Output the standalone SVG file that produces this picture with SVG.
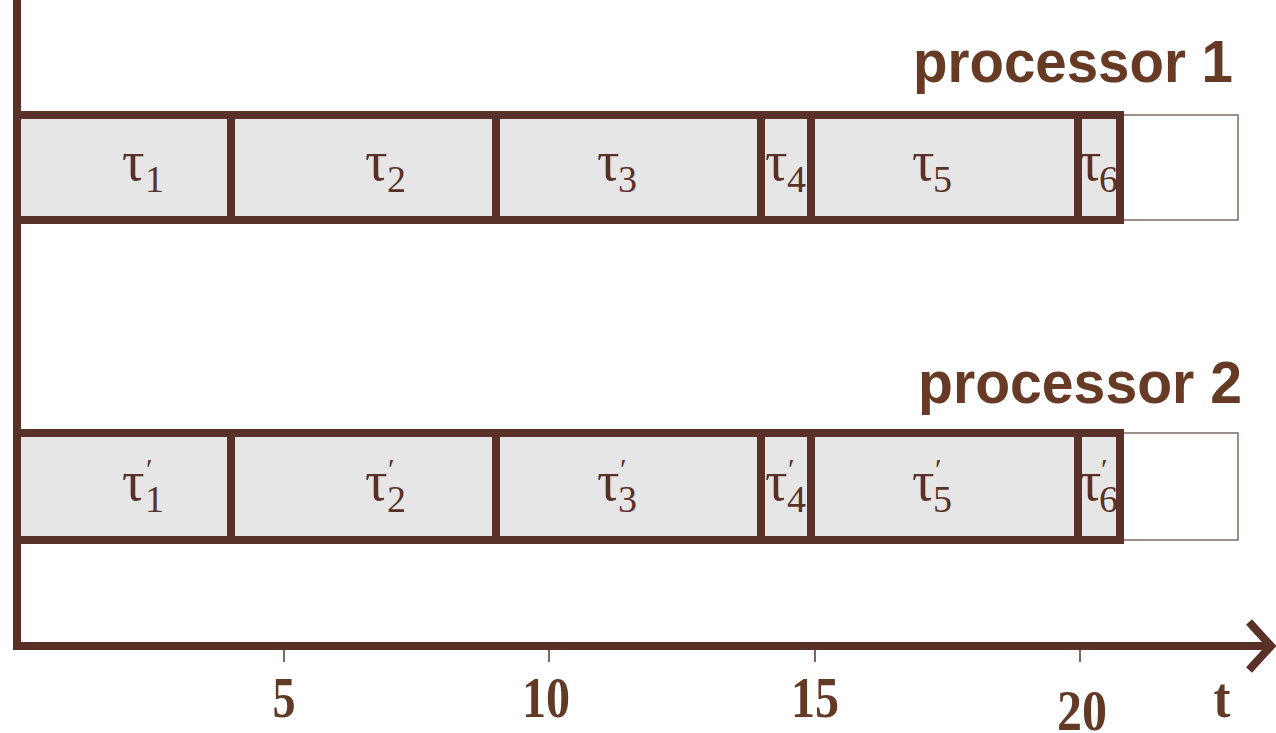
<svg xmlns="http://www.w3.org/2000/svg" width="1276" height="733" viewBox="0 0 1276 733">
<style>
.cell{fill:#e5e6e5;stroke:#5a3128;stroke-width:8}
.tail{fill:#ffffff;stroke:#7d6a66;stroke-width:1.5}
.axis{fill:none;stroke:#5a3128;stroke-width:8}
.tick{stroke:#5a3128;stroke-width:1.5}
.tau{font-family:"Liberation Serif","DejaVu Serif",serif;font-size:56px;fill:#5a3128}
.sub{font-size:38px}
.pr{font-size:30px}
.num{font-family:"Liberation Serif","DejaVu Serif",serif;font-weight:bold;font-size:56px;fill:#633a26;text-anchor:middle}
.proc{font-family:"Liberation Sans",Arial,sans-serif;font-weight:bold;font-size:60px;fill:#663a24;text-anchor:end}
</style>
<rect width="1276" height="733" fill="#ffffff"/>

<g id="row1">
  <rect class="tail" x="1120" y="115" width="118" height="105"/>
  <rect class="cell" x="17" y="115" width="214" height="105"/>
  <rect class="cell" x="231" y="115" width="265" height="105"/>
  <rect class="cell" x="496" y="115" width="265" height="105"/>
  <rect class="cell" x="761" y="115" width="50" height="105"/>
  <rect class="cell" x="811" y="115" width="267" height="105"/>
  <rect class="cell" x="1078" y="115" width="42" height="105"/>
  <text class="tau" x="122" y="180">τ<tspan class="sub" x="145" dy="12">1</tspan></text>
  <text class="tau" x="365" y="180">τ<tspan class="sub" x="387" dy="12">2</tspan></text>
  <text class="tau" x="597" y="180">τ<tspan class="sub" x="618" dy="12">3</tspan></text>
  <text class="tau" x="765" y="180">τ<tspan class="sub" x="787" dy="12">4</tspan></text>
  <text class="tau" x="912" y="180">τ<tspan class="sub" x="933" dy="12">5</tspan></text>
  <text class="tau" x="1079" y="180">τ<tspan class="sub" x="1099" dy="12">6</tspan></text>
  <text class="proc" x="1233" y="82" textLength="320" lengthAdjust="spacingAndGlyphs">processor 1</text>
</g>

<g id="row2">
  <rect class="tail" x="1120" y="433" width="118" height="107"/>
  <rect class="cell" x="17" y="433" width="214" height="107"/>
  <rect class="cell" x="231" y="433" width="265" height="107"/>
  <rect class="cell" x="496" y="433" width="265" height="107"/>
  <rect class="cell" x="761" y="433" width="50" height="107"/>
  <rect class="cell" x="811" y="433" width="267" height="107"/>
  <rect class="cell" x="1078" y="433" width="42" height="107"/>
  <text class="tau" x="122" y="500">τ<tspan class="pr" x="146" dy="-21">′</tspan><tspan class="sub" x="145" dy="33">1</tspan></text>
  <text class="tau" x="365" y="500">τ<tspan class="pr" x="388" dy="-21">′</tspan><tspan class="sub" x="387" dy="33">2</tspan></text>
  <text class="tau" x="597" y="500">τ<tspan class="pr" x="620" dy="-21">′</tspan><tspan class="sub" x="618" dy="33">3</tspan></text>
  <text class="tau" x="765" y="500">τ<tspan class="pr" x="788" dy="-21">′</tspan><tspan class="sub" x="787" dy="33">4</tspan></text>
  <text class="tau" x="912" y="500">τ<tspan class="pr" x="935" dy="-21">′</tspan><tspan class="sub" x="933" dy="33">5</tspan></text>
  <text class="tau" x="1079" y="500">τ<tspan class="pr" x="1101" dy="-21">′</tspan><tspan class="sub" x="1099" dy="33">6</tspan></text>
  <text class="proc" x="1242" y="403" textLength="324" lengthAdjust="spacingAndGlyphs">processor 2</text>
</g>

<g id="connectors">
  <line class="axis" x1="17" y1="0" x2="17" y2="650"/>
  <line class="axis" x1="13" y1="646" x2="1270" y2="646"/>
  <polyline class="axis" points="1249,622 1271,646 1249,670"/>
  <line class="tick" x1="284" y1="650" x2="284" y2="662"/>
  <line class="tick" x1="549" y1="650" x2="549" y2="662"/>
  <line class="tick" x1="815" y1="650" x2="815" y2="662"/>
  <line class="tick" x1="1080" y1="650" x2="1080" y2="662"/>
</g>

<g id="labels">
  <text class="num" x="284" y="717" textLength="23" lengthAdjust="spacingAndGlyphs">5</text>
  <text class="num" x="546" y="717" textLength="48" lengthAdjust="spacingAndGlyphs">10</text>
  <text class="num" x="815" y="717" textLength="48" lengthAdjust="spacingAndGlyphs">15</text>
  <text class="num" x="1082" y="730" textLength="50" lengthAdjust="spacingAndGlyphs">20</text>
  <text class="num" x="1222" y="717" textLength="17" lengthAdjust="spacingAndGlyphs">t</text>
</g>
</svg>
